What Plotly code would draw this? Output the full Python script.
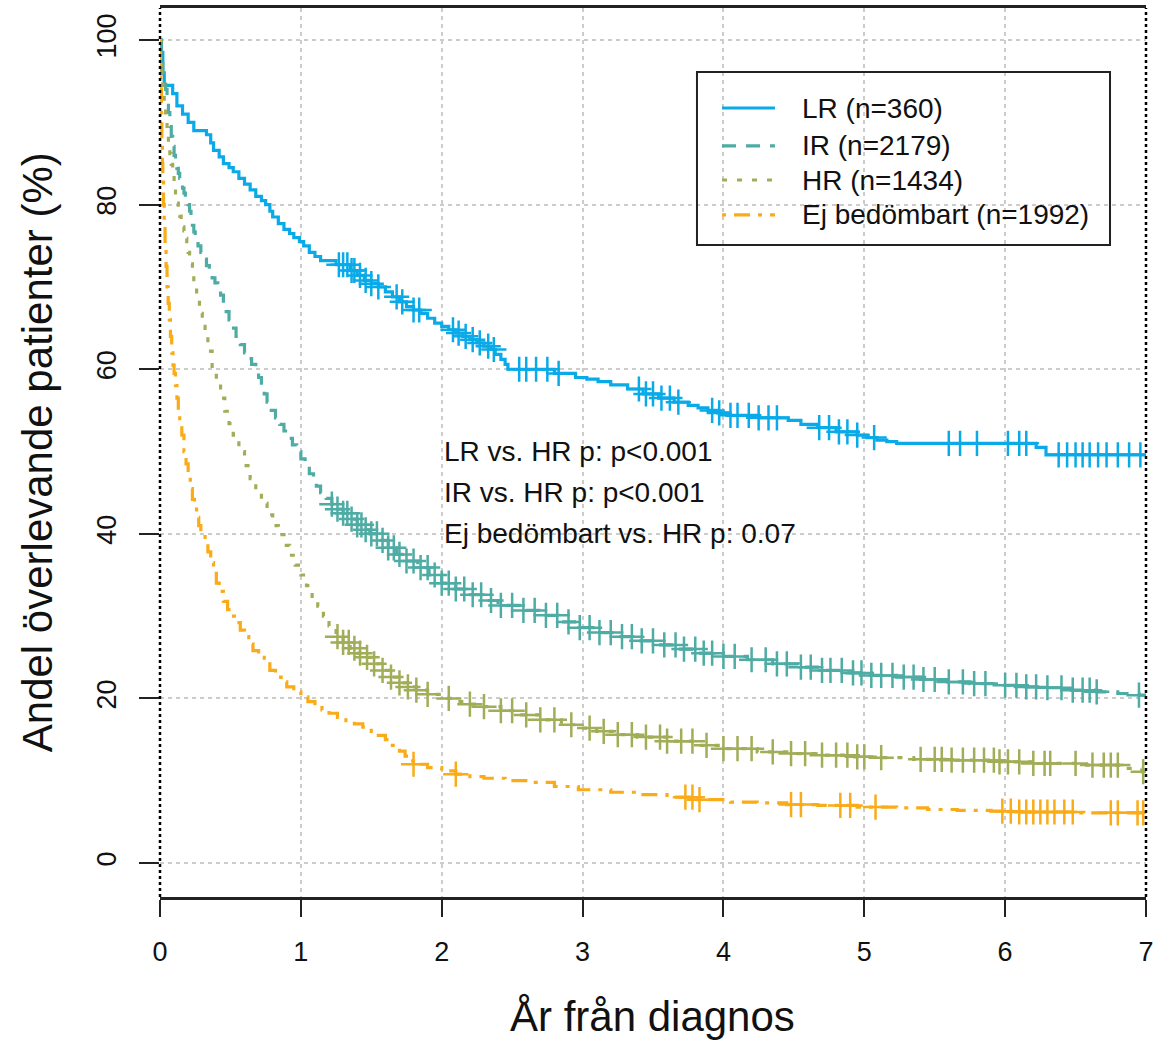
import numpy as np
import plotly.graph_objects as go

# Kaplan-Meier step curves: time in years, survival in percent
lr_time = [0, 0.01, 0.02, 0.03, 0.09, 0.12, 0.16, 0.2, 0.24, 0.33, 0.36, 0.38, 0.42, 0.45, 0.49,
           0.52, 0.56, 0.6, 0.64, 0.68, 0.72, 0.75, 0.78, 0.8, 0.84, 0.88, 0.92, 0.95, 0.99,
           1.02, 1.06, 1.1, 1.14, 1.25, 1.35, 1.4, 1.45, 1.5, 1.55, 1.6, 1.65, 1.7, 1.75, 1.8,
           1.85, 1.9, 1.95, 2.0, 2.05, 2.1, 2.15, 2.2, 2.25, 2.3, 2.35, 2.38, 2.42, 2.45, 2.47,
           2.8, 2.95, 3.03, 3.11, 3.2, 3.32, 3.43, 3.54, 3.65, 3.75, 3.82, 3.89, 3.96, 4.03,
           4.25, 4.46, 4.55, 4.67, 4.8, 4.95, 5.02, 5.09, 5.16, 5.23, 6.22, 6.29, 7.0]
lr_surv = [100, 98.5, 96, 94.5, 93.5, 92, 91, 90, 89, 88.5, 87.5, 86.6, 85.8, 85, 84.5,
           84, 83.2, 82.5, 81.8, 81, 80.5, 80, 79.2, 78.5, 77.7, 77, 76.5, 76, 75.5,
           75, 74.2, 73.7, 73.2, 72.7, 72, 71.4, 70.8, 70.4, 70, 69.4, 68.8, 68.2, 67.6, 67.2,
           66.8, 66.2, 65.6, 65.2, 64.8, 64.4, 64, 63.6, 63.2, 62.8, 62.4, 61.8, 61.2, 60.6, 60,
           59.5, 59, 58.8, 58.5, 58.1, 57.6, 57, 56.5, 56, 55.6, 55.3, 55, 54.7, 54.4,
           54.1, 53.8, 53.3, 52.9, 52.4, 52, 51.7, 51.4, 51.2, 51, 50.5, 49.6, 49.6]

ir_time = [0, 0.01, 0.02, 0.03, 0.04, 0.05, 0.06, 0.07, 0.08, 0.09, 0.1, 0.11, 0.12, 0.13,
           0.14, 0.15, 0.16, 0.17, 0.18, 0.2, 0.21, 0.22, 0.23, 0.24, 0.25, 0.27, 0.29, 0.31,
           0.33, 0.35, 0.37, 0.39, 0.41, 0.43, 0.45, 0.47, 0.49, 0.51, 0.54, 0.57, 0.6, 0.62,
           0.65, 0.68, 0.7, 0.72, 0.74, 0.76, 0.79, 0.82, 0.85, 0.88, 0.91, 0.94, 0.97, 1.0,
           1.03, 1.06, 1.09, 1.11, 1.14, 1.18, 1.22, 1.26, 1.3, 1.35, 1.4, 1.45, 1.49, 1.55,
           1.62, 1.68, 1.75, 1.83, 1.91, 2.0, 2.1, 2.19, 2.3, 2.4, 2.55, 2.69, 2.83, 2.97,
           3.1, 3.25, 3.4, 3.54, 3.68, 3.82, 4.0, 4.17, 4.35, 4.53, 4.7, 4.88, 5.05, 5.23,
           5.4, 5.59, 5.75, 5.94, 6.1, 6.29, 6.45, 6.65, 6.8, 6.95, 7.0]
ir_surv = [100, 98, 96, 95, 94, 93, 91.2, 89.5, 88.3, 87.1, 86, 85, 84.4, 83.8,
           83.2, 82.6, 82, 81.4, 80.8, 80, 79.2, 78.4, 77.5, 76.7, 76.1, 75, 74.2, 73.4,
           72.6, 71.8, 71.1, 70.5, 70, 69, 68, 67, 66, 65, 64, 63, 62, 61.3,
           60.6, 60, 59, 58, 57, 56, 55, 54.1, 53.3, 52.5, 51.6, 50.8, 50, 49.1,
           48.2, 47.3, 46.5, 45.8, 45, 44.3, 43.6, 43, 42.5, 41.8, 41.1, 40.5, 40, 39.2,
           38.3, 37.5, 36.7, 35.9, 35, 34, 33.3, 32.6, 31.9, 31.3, 30.7, 30.1, 29.3, 28.6,
           28, 27.5, 27, 26.5, 26, 25.5, 25.1, 24.7, 24.2, 23.8, 23.4, 23.1, 22.8, 22.6,
           22.3, 22, 21.8, 21.6, 21.4, 21.3, 21, 20.8, 20.6, 20.4, 20.4]

hr_time = [0, 0.005, 0.01, 0.02, 0.03, 0.04, 0.05, 0.06, 0.07, 0.08, 0.09, 0.1, 0.11, 0.12,
           0.13, 0.14, 0.15, 0.16, 0.17, 0.18, 0.19, 0.2, 0.21, 0.22, 0.23, 0.24, 0.26, 0.28,
           0.3, 0.32, 0.34, 0.37, 0.4, 0.43, 0.46, 0.49, 0.52, 0.56, 0.6, 0.64, 0.68, 0.72,
           0.76, 0.8, 0.84, 0.88, 0.92, 0.96, 1.0, 1.04, 1.08, 1.12, 1.16, 1.2, 1.25, 1.3,
           1.35, 1.4, 1.44, 1.5, 1.56, 1.63, 1.7, 1.76, 1.82, 1.9, 2.0, 2.1, 2.2, 2.3, 2.42,
           2.55, 2.7, 2.85, 2.97, 3.1, 3.25, 3.39, 3.6, 3.82, 4.0, 4.24, 4.45, 4.67, 4.9,
           5.09, 5.35, 5.59, 5.94, 6.2, 6.51, 6.86, 6.97, 7.0]
hr_surv = [100, 97.5, 95.5, 93.5, 92, 90.5, 89, 87.6, 86.2, 84.9, 83.6, 82.3, 81, 80.2,
           79.4, 78.6, 77.9, 77.3, 76.8, 75.9, 75, 74.2, 73.5, 72.8, 71.4, 70, 68.4, 66.8,
           65.2, 63.7, 62.2, 60, 58.2, 56.5, 54.9, 53.4, 52, 50, 48.3, 46.7, 45.2, 43.7,
           42.3, 41, 39.9, 38.6, 37.4, 36.2, 35, 33.7, 32.4, 31.2, 30, 28.8, 27.5, 26.8,
           26.1, 25.5, 25, 24.2, 23.4, 22.6, 21.9, 21.4, 21, 20.5, 20, 19.6, 19.3, 19, 18.5,
           18, 17.4, 16.8, 16.4, 16, 15.6, 15.3, 14.8, 14.3, 13.9, 13.5, 13.3, 13.1, 12.9,
           12.8, 12.6, 12.5, 12.3, 12.1, 11.9, 11.5, 11.1, 11.1]

ej_time = [0, 0.003, 0.006, 0.01, 0.013, 0.017, 0.02, 0.025, 0.03, 0.036, 0.043, 0.05, 0.058,
           0.066, 0.074, 0.083, 0.092, 0.1, 0.11, 0.12, 0.13, 0.14, 0.155, 0.17, 0.185, 0.2,
           0.215, 0.23, 0.245, 0.26, 0.275, 0.29, 0.32, 0.34, 0.36, 0.38, 0.4, 0.42, 0.45,
           0.48, 0.51, 0.54, 0.57, 0.6, 0.63, 0.66, 0.7, 0.74, 0.78, 0.82, 0.86, 0.9, 0.95,
           1.0, 1.05, 1.1, 1.15, 1.2, 1.26, 1.32, 1.38, 1.44, 1.5, 1.55, 1.6, 1.65, 1.7,
           1.74, 1.77, 1.8, 1.9, 2.0, 2.1, 2.2, 2.3, 2.45, 2.62, 2.8, 2.97, 3.2, 3.39, 3.6,
           3.82, 4.05, 4.24, 4.45, 4.67, 4.95, 5.23, 5.45, 5.66, 5.9, 6.08, 6.5, 7.0]
ej_surv = [100, 97, 94, 91, 88, 85, 83, 80, 77.5, 75, 72.5, 70, 68,
           66, 64, 62, 60.5, 59.5, 58, 56.5, 55, 53.5, 52, 50, 48.5, 47,
           45.5, 44.2, 43, 42, 41, 40.3, 39.2, 37.8, 36.5, 35.2, 34, 33, 31.8,
           30.8, 30, 29.2, 28.3, 27.5, 26.6, 25.8, 25, 24.2, 23.4, 22.6, 22, 21.4, 20.8,
           20.2, 19.6, 19.1, 18.6, 18.2, 17.7, 17.3, 16.9, 16.5, 16, 15.5, 15, 14.3, 13.6,
           13, 12.4, 12, 11.6, 11.2, 10.8, 10.5, 10.3, 10, 9.8, 9.3, 8.9, 8.6, 8.3, 8.0,
           7.7, 7.4, 7.3, 7.1, 7.0, 6.8, 6.7, 6.5, 6.4, 6.3, 6.2, 6.1, 6.1]

# Censoring times (years)
lr_cens = [1.27, 1.3, 1.33, 1.36, 1.38, 1.42, 1.46, 1.5, 1.55, 1.68, 1.72, 1.8, 1.84, 2.08,
           2.12, 2.17, 2.22, 2.27, 2.33, 2.37, 2.55, 2.6, 2.67, 2.75, 2.83, 3.4, 3.45, 3.5,
           3.56, 3.62, 3.68, 3.92, 3.97, 4.05, 4.1, 4.18, 4.25, 4.32, 4.38, 4.68, 4.75, 4.82,
           4.88, 4.95, 5.07, 5.6, 5.68, 5.8, 6.02, 6.1, 6.15, 6.38, 6.44, 6.5, 6.55, 6.6,
           6.66, 6.72, 6.8, 6.88, 6.96]
ir_cens = [1.22, 1.26, 1.3, 1.33, 1.36, 1.4, 1.43, 1.46, 1.5, 1.54, 1.58, 1.62, 1.66, 1.7,
           1.75, 1.8, 1.85, 1.9, 1.95, 2.0, 2.05, 2.1, 2.16, 2.22, 2.28, 2.35, 2.42, 2.5, 2.58,
           2.66, 2.74, 2.82, 2.9, 2.98, 3.05, 3.12, 3.2, 3.28, 3.35, 3.42, 3.5, 3.58, 3.66,
           3.72, 3.8, 3.86, 3.92, 4.0, 4.08, 4.2, 4.3, 4.38, 4.45, 4.55, 4.62, 4.7, 4.76,
           4.84, 4.92, 4.98, 5.05, 5.12, 5.2, 5.28, 5.35, 5.42, 5.5, 5.6, 5.7, 5.78, 5.86,
           6.0, 6.08, 6.15, 6.22, 6.3, 6.4, 6.48, 6.55, 6.6, 6.65, 6.95]
hr_cens = [1.26, 1.3, 1.34, 1.38, 1.42, 1.47, 1.52, 1.58, 1.64, 1.7, 1.76, 1.82, 1.9, 2.05,
           2.2, 2.3, 2.42, 2.5, 2.6, 2.7, 2.8, 2.92, 3.05, 3.15, 3.25, 3.35, 3.45, 3.55, 3.6,
           3.7, 3.78, 3.88, 4.0, 4.1, 4.2, 4.35, 4.48, 4.58, 4.7, 4.8, 4.88, 4.95, 5.0, 5.12,
           5.4, 5.5, 5.55, 5.62, 5.7, 5.78, 5.85, 5.92, 5.96, 6.02, 6.1, 6.2, 6.28, 6.32, 6.5,
           6.62, 6.7, 6.75, 6.8, 6.98]
ej_cens = [1.8, 2.1, 3.73, 3.78, 3.83, 4.48, 4.55, 4.83, 4.9, 5.08, 5.98, 6.04, 6.1, 6.15,
           6.2, 6.25, 6.3, 6.35, 6.42, 6.48, 6.75, 6.8, 6.94, 6.98]

labels = ["LR (n=360)", "IR (n=2179)", "HR (n=1434)", "Ej bedömbart (n=1992)"]
pvalue_lines = ["LR vs. HR p: p<0.001", "IR vs. HR p: p<0.001", "Ej bedömbart vs. HR p: 0.07"]
pvalue_y = [50, 45, 40]
x_ticks = [0, 1, 2, 3, 4, 5, 6, 7]
y_ticks = [0, 20, 40, 60, 80, 100]

colors = ["#0aaae8", "#4eaca4", "#a2ad58", "#faab18"]
dashes = ["solid", "14px,10px", "5px,10px", "4px,8px,16px,8px"]
series = [(lr_time, lr_surv, lr_cens), (ir_time, ir_surv, ir_cens),
          (hr_time, hr_surv, hr_cens), (ej_time, ej_surv, ej_cens)]

FONT = "Liberation Sans, Arial, sans-serif"
TICK_FONT = "Liberation Sans Narrow, Arial Narrow, Liberation Sans, Arial, sans-serif"


def step_value(times, surv, t):
    idx = np.searchsorted(np.asarray(times), t, side="right") - 1
    return np.asarray(surv)[idx]


fig = go.Figure()
for (t, s, c), col, dash, name in zip(series, colors, dashes, labels):
    fig.add_trace(go.Scatter(
        x=t, y=s, mode="lines", line=dict(color=col, width=3.2, dash=dash, shape="hv"),
        name=name, showlegend=False, hoverinfo="skip"))
    cy = [step_value(t, s, ct) for ct in c]
    fig.add_trace(go.Scatter(
        x=c, y=cy, mode="markers",
        marker=dict(symbol="cross-thin", size=18, line=dict(color=col, width=2.5)),
        showlegend=False, hoverinfo="skip"))

# Left and right frame edges are dotted
shapes = [
    dict(type="line", xref="paper", yref="paper", x0=0, x1=0, y0=0, y1=1,
         line=dict(color="black", width=2.5, dash="dot")),
    dict(type="line", xref="paper", yref="paper", x0=1, x1=1, y0=0, y1=1,
         line=dict(color="black", width=2.5, dash="dot")),
]

# Legend box drawn in paper coordinates
lg_x0, lg_x1, lg_y0, lg_y1 = 0.5446, 0.9635, 0.7334, 0.928
shapes.append(dict(type="rect", xref="paper", yref="paper", x0=lg_x0, x1=lg_x1,
                   y0=lg_y0, y1=lg_y1, line=dict(color="#222222", width=2),
                   fillcolor="rgba(255,255,255,0)"))
row_y = [0.8875, 0.8448, 0.8065, 0.7672]
annotations = []
for ry, col, dash, name in zip(row_y, colors, dashes, labels):
    shapes.append(dict(type="line", xref="paper", yref="paper", x0=0.570, x1=0.6237,
                       y0=ry, y1=ry, line=dict(color=col, width=3.2, dash=dash)))
    annotations.append(dict(x=0.6491, y=ry, xref="paper", yref="paper", text=name,
                            showarrow=False, xanchor="left", yanchor="middle",
                            font=dict(family=FONT, size=28, color="#111111")))

for txt, py in zip(pvalue_lines, pvalue_y):
    annotations.append(dict(x=2.0, y=py, xref="x", yref="y", text=txt, showarrow=False,
                            xanchor="left", yanchor="middle",
                            font=dict(family=FONT, size=28, color="#111111")))

# Axis titles
annotations.append(dict(x=0.499, y=-0.134, xref="paper", yref="paper",
                        text="År från diagnos", showarrow=False,
                        xanchor="center", yanchor="middle",
                        font=dict(family=FONT, size=42, color="#111111")))
annotations.append(dict(x=-0.124, y=0.5, xref="paper", yref="paper",
                        text="Andel överlevande patienter (%)", showarrow=False,
                        textangle=-90, xanchor="center", yanchor="middle",
                        font=dict(family=FONT, size=42, color="#111111")))

fig.update_layout(
    width=1154, height=1040,
    margin=dict(l=160, r=8, t=8, b=143, autoexpand=False),
    paper_bgcolor="white", plot_bgcolor="white",
    shapes=shapes, annotations=annotations,
    xaxis=dict(range=[0, 7], tickvals=x_ticks, ticks="outside", ticklen=17, tickwidth=2,
               tickcolor="#222222", showline=True, linecolor="#222222", linewidth=2.5,
               mirror=True, showgrid=True, gridcolor="#cccccc", gridwidth=1.5,
               griddash="4px,4px", zeroline=False, ticklabelstandoff=12,
               ticklabeloverflow="allow", automargin=False,
               tickfont=dict(family=TICK_FONT, size=27, color="#111111")),
    yaxis=dict(range=[-4.13, 103.9], tickvals=y_ticks, ticks="outside", ticklen=20,
               tickwidth=2, tickcolor="#222222", showline=False, showgrid=True,
               gridcolor="#cccccc", gridwidth=1.5, griddash="4px,4px", zeroline=False,
               tickangle=-90, ticklabelstandoff=12, automargin=False,
               tickfont=dict(family=TICK_FONT, size=27, color="#111111")),
)

fig.write_html("out.html")
